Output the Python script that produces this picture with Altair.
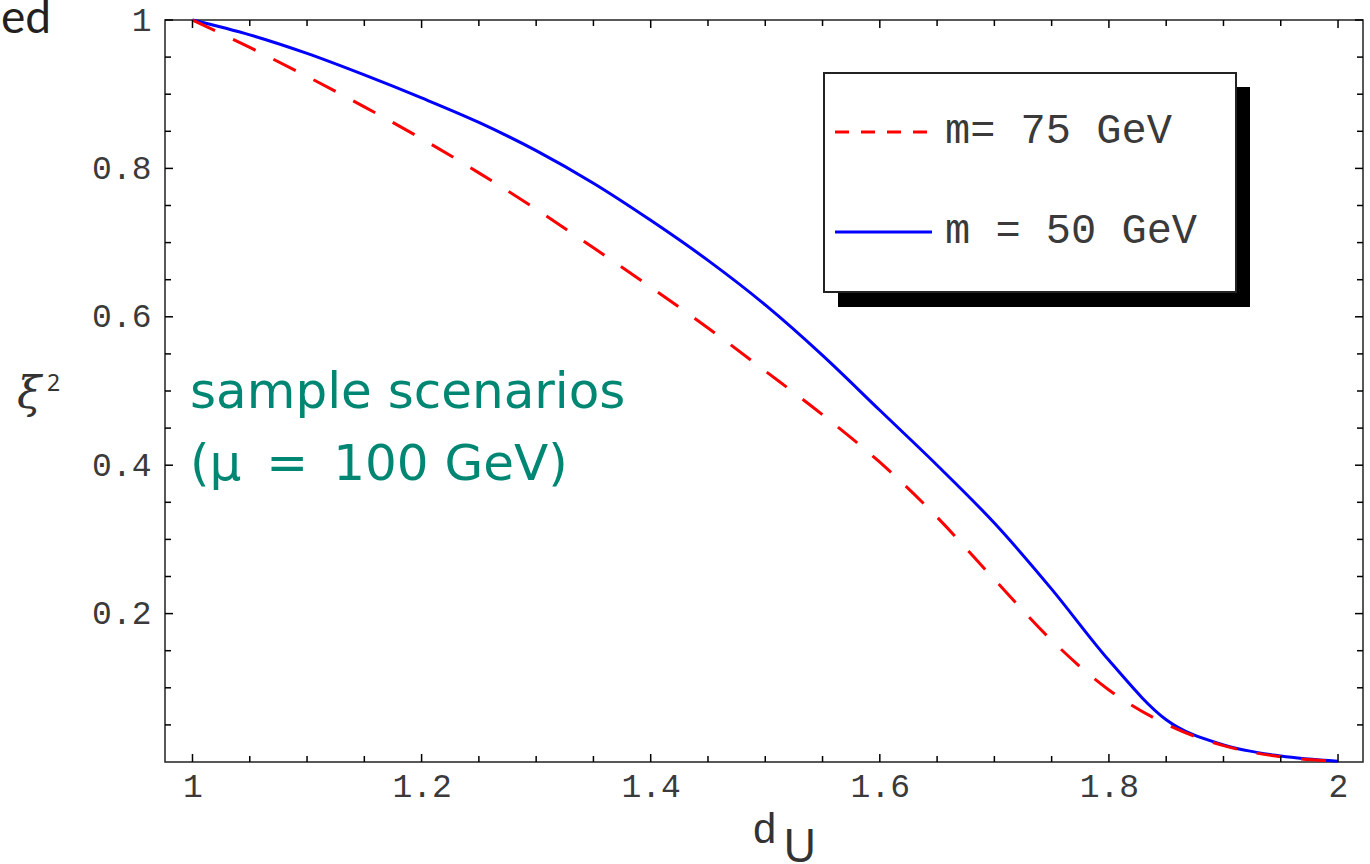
import altair as alt
import pandas as pd

# ---- data ----
d_values = [1.00, 1.05, 1.10, 1.15, 1.20, 1.25, 1.30, 1.35, 1.40, 1.45, 1.50,
            1.55, 1.60, 1.65, 1.70, 1.75, 1.80, 1.85, 1.90, 1.95, 2.00]
xi2_m50 = [1.000, 0.980, 0.955, 0.926, 0.895, 0.862, 0.824, 0.780, 0.730, 0.676, 0.616,
           0.548, 0.474, 0.400, 0.322, 0.233, 0.137, 0.057, 0.023, 0.008, 0.001]
xi2_m75 = [1.000, 0.963, 0.924, 0.883, 0.840, 0.794, 0.745, 0.693, 0.640, 0.585, 0.527,
           0.468, 0.404, 0.330, 0.246, 0.164, 0.097, 0.051, 0.022, 0.007, 0.001]

x_major = [1.0, 1.2, 1.4, 1.6, 1.8, 2.0]
x_minor = [1.05, 1.10, 1.15, 1.25, 1.30, 1.35, 1.45, 1.50, 1.55,
           1.65, 1.70, 1.75, 1.85, 1.90, 1.95]
y_major = [0.2, 0.4, 0.6, 0.8, 1.0]
y_minor = [0.05, 0.10, 0.15, 0.25, 0.30, 0.35, 0.45, 0.50, 0.55,
           0.65, 0.70, 0.75, 0.85, 0.90, 0.95]

legend_labels = ["m= 75 GeV", "m = 50 GeV"]
note_lines = ["sample scenarios", "(\u03bc\u2002=\u2002100 GeV)"]

W, H = 1198, 742
MONO = "Liberation Mono"
TEAL = "#008774"

xs = alt.Scale(domain=[0.976, 2.0218], nice=False, zero=False)
ys = alt.Scale(domain=[0.0, 1.0], nice=False, zero=False)

x_axis = alt.Axis(values=x_major, ticks=False, domain=False, grid=False,
                  labelExpr="format(datum.value, '~g')", labelFont=MONO,
                  labelFontSize=33, labelColor="#3a3a3a", labelPadding=8,
                  title=None)
y_axis = alt.Axis(values=y_major, ticks=False, domain=False, grid=False,
                  labelExpr="format(datum.value, '~g')", labelFont=MONO,
                  labelFontSize=33, labelColor="#3a3a3a", labelPadding=14,
                  title=None)

df50 = pd.DataFrame({"d": d_values, "xi2": xi2_m50})
df75 = pd.DataFrame({"d": d_values, "xi2": xi2_m75})

blue = alt.Chart(df50).mark_line(color="#0000ff", strokeWidth=3, interpolate="monotone").encode(
    x=alt.X("d:Q", scale=xs, axis=x_axis),
    y=alt.Y("xi2:Q", scale=ys, axis=y_axis),
)
red = alt.Chart(df75).mark_line(color="#ff0000", strokeWidth=3, strokeDash=[25, 20],
                                interpolate="monotone").encode(
    x=alt.X("d:Q", scale=xs, axis=x_axis),
    y=alt.Y("xi2:Q", scale=ys, axis=y_axis),
)

def xticks(vals, length):
    df = pd.DataFrame({"d": vals})
    bottom = alt.Chart(df).mark_rule(color="black", strokeWidth=1.5).encode(
        x=alt.X("d:Q", scale=xs, axis=x_axis), y=alt.value(H), y2=alt.value(H - length))
    top = alt.Chart(df).mark_rule(color="black", strokeWidth=1.5).encode(
        x=alt.X("d:Q", scale=xs, axis=x_axis), y=alt.value(0), y2=alt.value(length))
    return [bottom, top]

def yticks(vals, length):
    df = pd.DataFrame({"xi2": vals})
    left = alt.Chart(df).mark_rule(color="black", strokeWidth=1.5).encode(
        y=alt.Y("xi2:Q", scale=ys, axis=y_axis), x=alt.value(0), x2=alt.value(length))
    right = alt.Chart(df).mark_rule(color="black", strokeWidth=1.5).encode(
        y=alt.Y("xi2:Q", scale=ys, axis=y_axis), x=alt.value(W), x2=alt.value(W - length))
    return [left, right]

tick_layers = xticks(x_major, 8) + xticks(x_minor, 6) + yticks(y_major, 8) + yticks(y_minor, 6)

one = alt.Data(values=[{"a": 1}])

def txt(text, x, y, size, font, color="#222222", align="left", style="normal"):
    return alt.Chart(one).mark_text(text=text, fontSize=size, font=font, color=color,
                                    align=align, baseline="alphabetic", fontStyle=style).encode(
        x=alt.value(x), y=alt.value(y))

def rect(x, x2, y, y2, fill, stroke=None, sw=0):
    kw = dict(fill=fill)
    if stroke:
        kw.update(stroke=stroke, strokeWidth=sw)
    return alt.Chart(one).mark_rect(**kw).encode(
        x=alt.value(x), x2=alt.value(x2), y=alt.value(y), y2=alt.value(y2))

# legend
leg_shadow = rect(673, 1085, 67, 287, "black")
leg_box = rect(659, 1071, 53, 272, "white", "#222222", 2)
leg_red = alt.Chart(one).mark_rule(color="#ff0000", strokeWidth=3, strokeDash=[14, 12]).encode(
    x=alt.value(670), x2=alt.value(766), y=alt.value(112))
leg_blue = alt.Chart(one).mark_rule(color="#0000ff", strokeWidth=3).encode(
    x=alt.value(670), x2=alt.value(767), y=alt.value(212))
leg_t1 = txt(legend_labels[0], 780, 123, 42, MONO, "#3a3a3a")
leg_t2 = txt(legend_labels[1], 780, 223, 42, MONO, "#3a3a3a")

note1 = txt(note_lines[0], 25, 388, 50, "DejaVu Sans", TEAL)
note2 = txt(note_lines[1], 25, 460, 50, "DejaVu Sans", TEAL)

ed = txt("ed", -114, 13, 46, "Lato", "#231f20", align="right")
xi = txt("\u03be", -148, 388, 44, "DejaVu Serif", "#333333", style="italic")
sq = txt("2", -118, 371, 23, "Noto Sans", "#333333")
dl = txt("d", 587, 823, 42, MONO, "#333333")
ul = txt("U", 618, 842, 46, "Noto Sans", "#333333")

chart = alt.layer(
    blue, red, *tick_layers,
    leg_shadow, leg_box, leg_red, leg_blue, leg_t1, leg_t2,
    note1, note2, ed, xi, sq, dl, ul,
).properties(
    width=W, height=H,
    padding={"left": 165, "top": 20, "right": 7, "bottom": 102},
    autosize=alt.AutoSizeParams(type="none"),
).configure_view(stroke="#222222", strokeWidth=1.5)

chart.save("out.html", embed_options={"renderer": "svg", "actions": False})
